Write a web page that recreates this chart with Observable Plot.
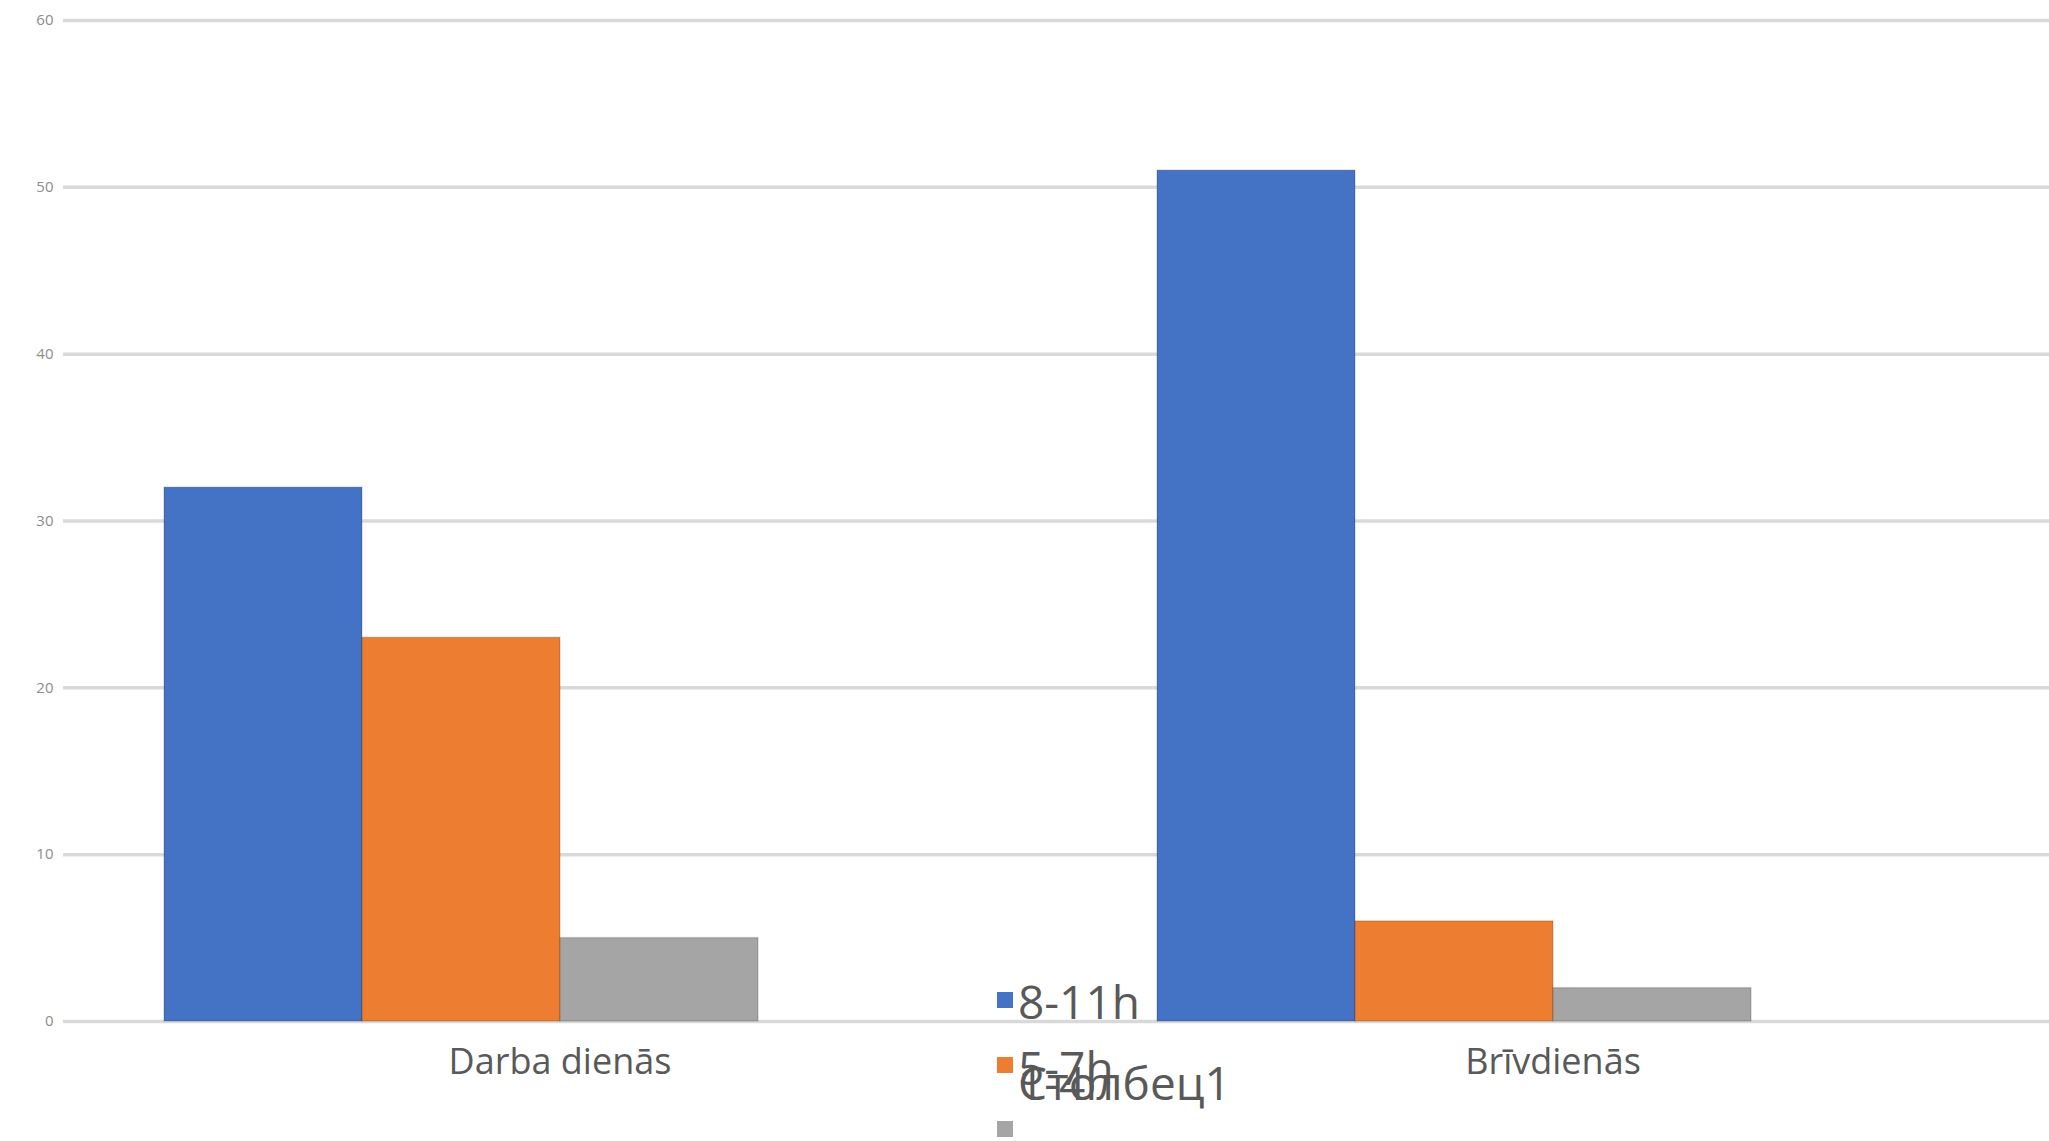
<!DOCTYPE html>
<html>
<head>
<meta charset="utf-8">
<script src="https://cdn.jsdelivr.net/npm/d3@7"></script>
<script src="https://cdn.jsdelivr.net/npm/@observablehq/plot@0.6"></script>
<style>
  html, body { margin: 0; padding: 0; background: #fff; }
  #wrap { position: relative; width: 2049px; height: 1141px; overflow: hidden; font-family: "Open Sans", sans-serif; }
  .lg-sw { position: absolute; width: 16px; height: 16px; }
  .lg-tx { position: absolute; font-size: 46px; line-height: 46px; color: #595959; white-space: nowrap; }
</style>
</head>
<body>
<div id="wrap"></div>
<script>
const categories = ["Darba dienās", "Brīvdienās"];
const seriesNames = ["8-11h", "5-7h", "1-4h", "Столбец1"];
const values_8_11h = [32, 51];
const values_5_7h = [23, 6];
const values_1_4h = [5, 2];
const seriesColors = ["#4472C4", "#ED7D31", "#A5A5A5", "#FFC000"];
const yTicks = [0, 10, 20, 30, 40, 50, 60];

const seriesValues = [values_8_11h, values_5_7h, values_1_4h];
const data = [];
seriesValues.forEach((vals, si) => {
  vals.forEach((v, ci) => data.push({category: categories[ci], series: seriesNames[si], value: v}));
});

const chart = Plot.plot({
  width: 2049,
  height: 1141,
  marginTop: 20,
  marginBottom: 120,
  marginLeft: 63,
  marginRight: 0,
  style: {fontFamily: "'Open Sans', sans-serif", background: "#fff"},
  fx: {domain: categories, padding: 0, label: null},
  x: {domain: seriesNames, paddingInner: 0, paddingOuter: 0.5, axis: null},
  y: {domain: [0, 60], ticks: yTicks, label: null},
  color: {domain: seriesNames, range: seriesColors},
  marks: [
    Plot.gridY(yTicks, {stroke: "#d9d9d9", strokeWidth: 3.5, strokeOpacity: 1}),
    Plot.barY(data, {fx: "category", x: "series", y: "value", fill: "series", stroke: "rgba(0,0,0,0.15)", strokeWidth: 1.5}),
    Plot.axisY(yTicks, {tickSize: 0, tickPadding: 10, fontSize: 15, color: "#8c8c8c", label: null}),
    Plot.axisFx({anchor: "bottom", tickSize: 0, tickPadding: 27, fontSize: 36, color: "#595959", label: null})
  ]
});

const wrap = document.getElementById("wrap");
wrap.appendChild(chart);

// Legend (overlapping, as in the reference)
const legendItems = [
  {name: seriesNames[0], color: seriesColors[0], swTop: 992, txTop: 978},
  {name: seriesNames[1], color: seriesColors[1], swTop: 1057, txTop: 1044},
  {name: seriesNames[2], color: seriesColors[2], swTop: 1121, txTop: 1059},
  {name: seriesNames[3], color: null, swTop: null, txTop: 1059}
];
legendItems.forEach(it => {
  if (it.color) {
    const sw = document.createElement("div");
    sw.className = "lg-sw";
    sw.style.left = "997px";
    sw.style.top = it.swTop + "px";
    sw.style.background = it.color;
    wrap.appendChild(sw);
  }
  const tx = document.createElement("div");
  tx.className = "lg-tx";
  tx.style.left = "1018px";
  tx.style.top = it.txTop + "px";
  tx.textContent = it.name;
  wrap.appendChild(tx);
});
</script>
</body>
</html>
